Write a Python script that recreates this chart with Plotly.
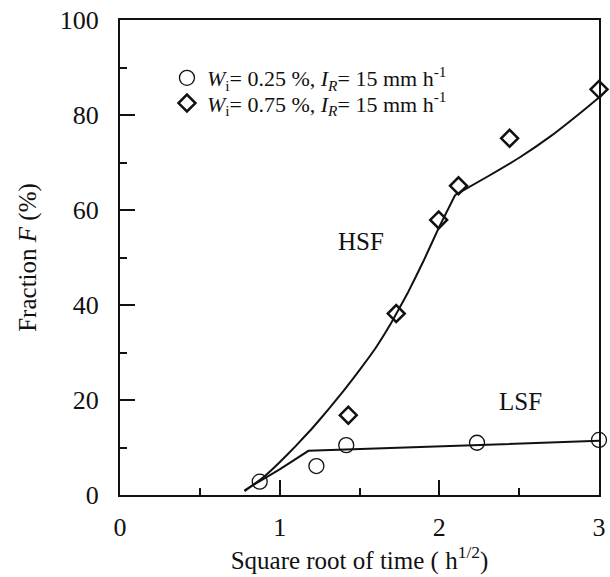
import plotly.graph_objects as go

# Measured data (square root of time, h^1/2 ; fraction F, %)
lsf_x = [0.875, 1.23, 1.417, 2.236, 3.0]
lsf_y = [2.8, 6.1, 10.5, 11.0, 11.6]

hsf_x = [1.43, 1.73, 1.996, 2.12, 2.44, 3.0]
hsf_y = [16.8, 38.2, 57.9, 65.1, 75.1, 85.4]

# Fitted curves
hsf_fit_low_x = [0.78, 0.9, 1.0, 1.1, 1.2, 1.3, 1.4, 1.5, 1.6, 1.7, 1.8, 1.9, 2.0, 2.1]
hsf_fit_low_y = [0.8, 3.8, 6.9, 10.3, 13.9, 17.8, 21.9, 26.3, 30.9, 36.3, 42.4, 49.2, 56.5, 63.2]
hsf_fit_up_x = [2.1, 2.3, 2.5, 2.7, 2.9, 3.0]
hsf_fit_up_y = [63.2, 67.0, 71.0, 75.6, 80.9, 83.7]

lsf_fit_x = [0.78, 1.0, 1.18, 3.0]
lsf_fit_y = [1.0, 5.4, 9.3, 11.4]

legend_names = [
    "<i>W</i><sub>i</sub>= 0.25 %, <i>I<sub>R</sub></i>= 15 mm h<sup>-1</sup>",
    "<i>W</i><sub>i</sub>= 0.75 %, <i>I<sub>R</sub></i>= 15 mm h<sup>-1</sup>",
]

FONT = "Liberation Serif"
INK = "#111111"

fig = go.Figure()

fig.add_trace(go.Scatter(x=hsf_fit_low_x, y=hsf_fit_low_y, mode="lines",
                         line=dict(color=INK, width=2, shape="spline", smoothing=0.3),
                         showlegend=False, hoverinfo="skip"))
fig.add_trace(go.Scatter(x=hsf_fit_up_x, y=hsf_fit_up_y, mode="lines",
                         line=dict(color=INK, width=2, shape="spline", smoothing=0.5),
                         showlegend=False, hoverinfo="skip"))
fig.add_trace(go.Scatter(x=lsf_fit_x, y=lsf_fit_y, mode="lines",
                         line=dict(color=INK, width=2),
                         showlegend=False, hoverinfo="skip"))

fig.add_trace(go.Scatter(x=lsf_x, y=lsf_y, mode="markers", name=legend_names[0],
                         legend="legend",
                         marker=dict(symbol="circle-open", size=15, color=INK,
                                     line=dict(width=1.3, color=INK)),
                         cliponaxis=False))
fig.add_trace(go.Scatter(x=hsf_x, y=hsf_y, mode="markers", name=legend_names[1],
                         legend="legend2",
                         marker=dict(symbol="diamond-open", size=13, color=INK,
                                     line=dict(width=2.5, color=INK)),
                         cliponaxis=False))

fig.add_annotation(x=1.51, y=53.3, text="HSF", showarrow=False,
                   font=dict(family=FONT, size=25, color=INK))
fig.add_annotation(x=2.51, y=19.6, text="LSF", showarrow=False,
                   font=dict(family=FONT, size=25, color=INK))

axis_common = dict(
    showgrid=False, zeroline=False, showline=True, linewidth=2, linecolor=INK,
    mirror=True, ticks="inside", ticklen=15, tickwidth=2, tickcolor=INK,
    tickfont=dict(family=FONT, size=26, color=INK), automargin=False,
)

fig.update_xaxes(range=[0, 3], dtick=1, tick0=0,
                 minor=dict(dtick=0.5, ticks="inside", ticklen=7, tickwidth=2, tickcolor=INK),
                 ticklabelstandoff=8,
                 title=dict(text="Square root of time ( h<sup>1/2</sup>)",
                            font=dict(family=FONT, size=25, color=INK), standoff=0),
                 **axis_common)
fig.update_yaxes(range=[0, 100], dtick=20, tick0=0,
                 minor=dict(dtick=10, ticks="inside", ticklen=7, tickwidth=2, tickcolor=INK),
                 ticklabelstandoff=14,
                 title=dict(text="Fraction <i>F</i> (%)",
                            font=dict(family=FONT, size=25, color=INK), standoff=16),
                 **axis_common)

leg_common = dict(xanchor="left", yanchor="top", bgcolor="rgba(0,0,0,0)", borderwidth=0,
                  font=dict(family=FONT, size=22, color=INK), itemsizing="trace")
fig.update_layout(
    width=610, height=577,
    margin=dict(l=120, r=11, t=20, b=82),
    paper_bgcolor="white", plot_bgcolor="white",
    font=dict(family=FONT, color=INK),
    legend=dict(x=0.098, y=0.922, **leg_common),
    legend2=dict(x=0.098, y=0.869, **leg_common),
)

fig.write_html("out.html", config={"displayModeBar": False},
               post_script="document.body.style.margin='0';document.body.style.overflow='hidden';")
